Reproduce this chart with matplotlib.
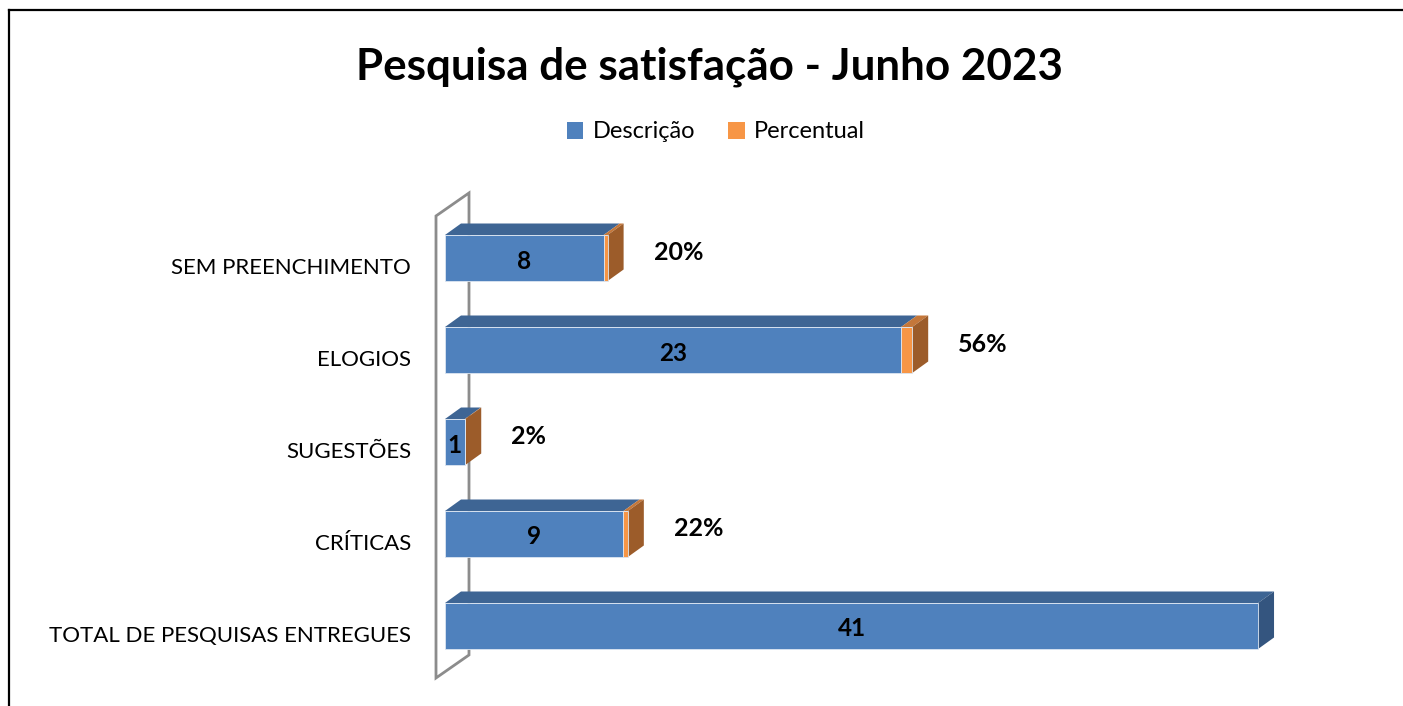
import matplotlib
matplotlib.use("Agg")
import matplotlib.pyplot as plt
from matplotlib.patches import Polygon, Rectangle, Patch
from matplotlib.lines import Line2D
import matplotlib.transforms as mtransforms

plt.rcParams["font.family"] = ["Lato", "DejaVu Sans"]

# dados
categorias = ["TOTAL DE PESQUISAS ENTREGUES", "CRÍTICAS", "SUGESTÕES",
              "ELOGIOS", "SEM PREENCHIMENTO"]
descricao = [41, 9, 1, 23, 8]
percentual = [0.0, 0.22, 0.02, 0.56, 0.20]
series = ["Descrição", "Percentual"]

# cores (frente, topo, lateral)
AZUL = ("#4F81BD", "#3E6594", "#34557F")
LARANJA = ("#F79646", "#C4773A", "#9C5C2A")

W, H, DPI = 1403, 706, 100
fig = plt.figure(figsize=(W / DPI, H / DPI), dpi=DPI)

# eixo em pixels: x=0 em 445px, 19.83 px por unidade; y=0 em 626px, 92 px por categoria
px_x = 19.83
px_y = 92.0
xmin, xmax = -2.0, 45.0
ymin, ymax = -1.0, 5.0
left_px = 445 + xmin * px_x
bottom_px = 626 + (-ymin) * px_y
ax = fig.add_axes([left_px / W, 1 - bottom_px / H,
                   (xmax - xmin) * px_x / W, (ymax - ymin) * px_y / H])
ax.set_xlim(xmin, xmax)
ax.set_ylim(ymin, ymax)
ax.axis("off")

# profundidade 3D em pixels -> dados
bar_dx, bar_dy = 16 / px_x, 11.5 / px_y
wall_dx, wall_dy = 33 / px_x, 23 / px_y
bar_h = 0.5

# parede lateral (fundo)
wx0 = -9 / px_x
wy0, wy1 = -0.565, 4.457
wall = Polygon([(wx0, wy0), (wx0, wy1), (wx0 + wall_dx, wy1 + wall_dy),
                (wx0 + wall_dx, wy0 + wall_dy)], closed=True, fill=False,
               edgecolor="#8C8C8C", lw=2, zorder=1)
ax.add_patch(wall)


def barra3d(x0, w, y, cores, lateral):
    frente, topo, lado = cores
    yb, yt = y - bar_h / 2, y + bar_h / 2
    x1 = x0 + w
    ax.add_patch(Polygon([(x0, yt), (x1, yt), (x1 + bar_dx, yt + bar_dy),
                          (x0 + bar_dx, yt + bar_dy)], closed=True,
                         facecolor=topo, edgecolor="none", zorder=3))
    if lateral:
        ax.add_patch(Polygon([(x1, yb), (x1, yt), (x1 + bar_dx, yt + bar_dy),
                              (x1 + bar_dx, yb + bar_dy)], closed=True,
                             facecolor=lado, edgecolor="none", zorder=3))
    ax.add_patch(Rectangle((x0, yb), w, bar_h, facecolor=frente,
                           edgecolor="#DCE6F2", lw=0.6, zorder=4))


for i, (d, p) in enumerate(zip(descricao, percentual)):
    barra3d(0, d, i, AZUL, p == 0)
    if p > 0:
        barra3d(d, p, i, LARANJA, True)
    val = mtransforms.offset_copy(ax.transData, fig=fig, x=0, y=-3,
                                  units="dots")
    ax.text(d / 2, i, str(d), ha="center", va="center", fontsize=17.5,
            fontweight="bold", color="black", zorder=5, transform=val)
    if p > 0:
        off = mtransforms.offset_copy(ax.transData, fig=fig, x=46, y=-17,
                                      units="dots")
        ax.text(d + p, i + bar_h / 2, f"{p:.0%}", ha="left", va="center",
                fontsize=18, fontweight="bold", color="black", transform=off)
    lab = mtransforms.offset_copy(ax.transData, fig=fig, x=-34, y=-10,
                                  units="dots")
    ax.text(0, i, categorias[i], ha="right", va="center", fontsize=16,
            color="black", transform=lab)

# titulo e legenda
fig.text(710 / W, 1 - 67 / H, "Pesquisa de satisfação - Junho 2023",
         ha="center", va="center", fontsize=31.7, fontweight="bold")
handles = [Patch(facecolor=AZUL[0]), Patch(facecolor=LARANJA[0])]
fig.legend(handles, series, loc="center", bbox_to_anchor=(716 / W, 1 - 132 / H),
           ncol=2, frameon=False, fontsize=17, handlelength=0.7,
           handleheight=0.7, handletextpad=0.4, columnspacing=1.4)

# moldura
fig.add_artist(Line2D([9 / W, 9 / W], [-0.05, 1 - 10 / H], color="black",
                      lw=1.6, transform=fig.transFigure))
fig.add_artist(Line2D([9 / W, 1.05], [1 - 10 / H, 1 - 10 / H], color="black",
                      lw=1.6, transform=fig.transFigure))

fig.savefig("out.png", dpi=DPI)
